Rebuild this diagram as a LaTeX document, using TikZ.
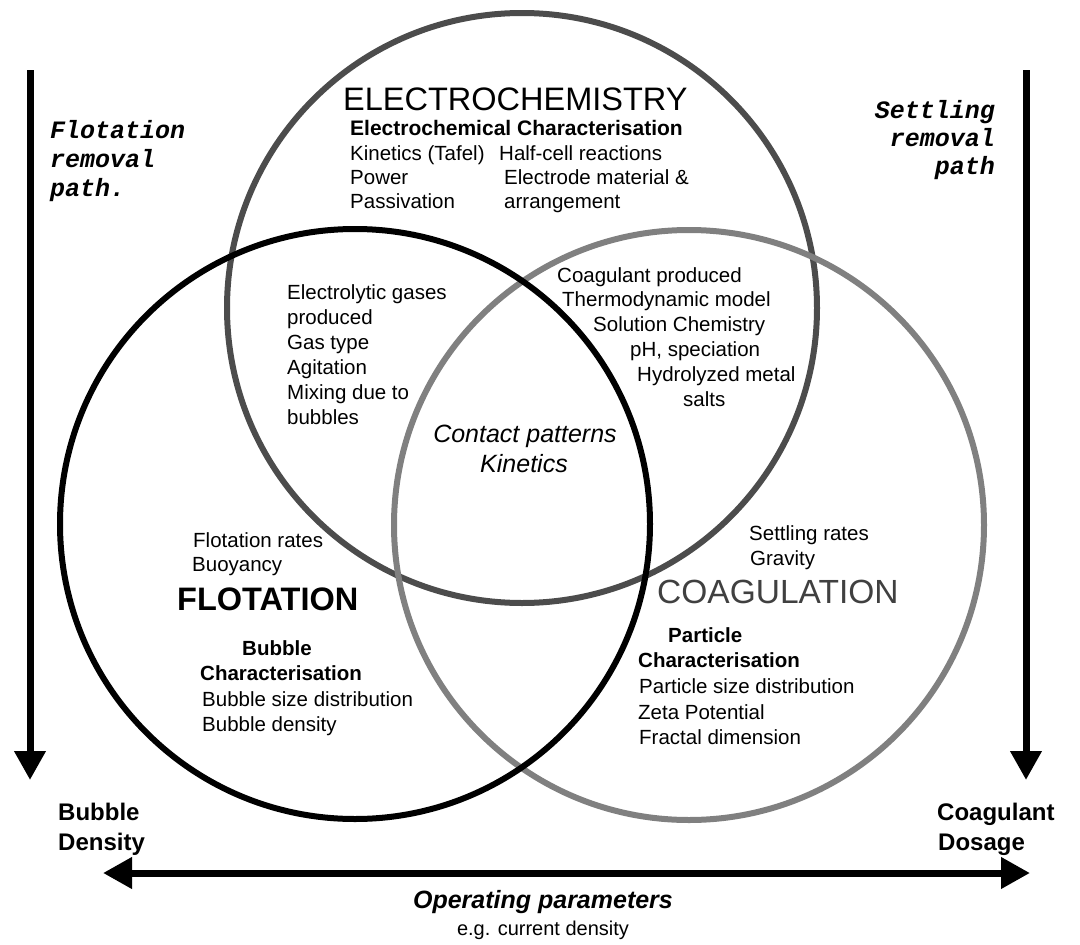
\documentclass[tikz,border=0pt]{standalone}
\usepackage{fontspec}
\setmainfont{Liberation Sans}
\newfontfamily\monof{Liberation Mono}
\usetikzlibrary{arrows.meta}
\tikzset{
  venn/.style={circle, draw, minimum size=590pt, inner sep=0pt, line width=6pt},
  txt/.style={anchor=base west, inner sep=0pt, font=\fontsize{20.5}{24}\selectfont},
  btxt/.style={anchor=base west, inner sep=0pt, font=\fontsize{20.5}{24}\selectfont\bfseries},
  itxt/.style={anchor=base, inner sep=0pt, font=\fontsize{25}{30}\selectfont\itshape},
  big/.style={anchor=base west, inner sep=0pt, font=\fontsize{32.5}{36}\selectfont},
  mono/.style={inner sep=0pt, font=\fontsize{25}{28}\selectfont\monof\bfseries\itshape},
  axlab/.style={anchor=base west, inner sep=0pt, font=\fontsize{24}{28}\selectfont\bfseries},
  bigarrow/.style={line width=7pt},
  tip/.tip={Triangle[length=29pt,width=30pt]}
}
\begin{document}
\begin{tikzpicture}[x=1pt,y=-1pt]
\useasboundingbox (0,0) rectangle (1080,945);
\fill[white] (0,0) rectangle (1080,945);
% circles
\node[venn, draw=black!70] (elec) at (522,308) {};
\node[venn, draw=black!50] (coag) at (689,525) {};
\node[venn, draw=black] (flot) at (355,524) {};
% arrows
\coordinate (lt) at (30,70);
\coordinate (lb) at (30,780);
\coordinate (rt) at (1026,70);
\coordinate (rb) at (1026,780);
\coordinate (hl) at (103,873);
\coordinate (hr) at (1030,873);
\draw[bigarrow,-tip] (lt) -- (lb);
\draw[bigarrow,-tip] (rt) -- (rb);
\draw[bigarrow,tip-tip] (hl) -- (hr);
% removal paths
\node[mono, anchor=base west] (fl1) at (50,138) {Flotation};
\node[mono, anchor=base west] (fl2) at (50,167) {removal};
\node[mono, anchor=base west] (fl3) at (50,196) {path.};
\node[mono, anchor=base east] (st1) at (995,118) {Settling};
\node[mono, anchor=base east] (st2) at (995,146) {removal};
\node[mono, anchor=base east] (st3) at (995,174) {path};
% electrochemistry
\node[big] (etitle) at (343,110) {ELECTROCHEMISTRY};
\node[btxt, font=\fontsize{21}{24}\selectfont\bfseries] (esub) at (350,135) {Electrochemical Characterisation};
\node[txt] (e1) at (350,160) {Kinetics (Tafel)};
\node[txt] (e2) at (350,184) {Power};
\node[txt] (e3) at (350,208) {Passivation};
\node[txt] (e4) at (499,160) {Half-cell reactions};
\node[txt] (e5) at (504,184) {Electrode material \&};
\node[txt] (e6) at (504,208) {arrangement};
% electro-flotation overlap
\node[txt] (ef1) at (287,299) {Electrolytic gases};
\node[txt] (ef2) at (287,324) {produced};
\node[txt] (ef3) at (287,349) {Gas type};
\node[txt] (ef4) at (287,374) {Agitation};
\node[txt] (ef5) at (287,399) {Mixing due to};
\node[txt] (ef6) at (287,424) {bubbles};
% electro-coagulation overlap
\node[txt] (ec1) at (557,282) {Coagulant produced};
\node[txt] (ec2) at (562,306) {Thermodynamic model};
\node[txt] (ec3) at (593,331) {Solution Chemistry};
\node[txt] (ec4) at (630,356) {pH, speciation};
\node[txt] (ec5) at (637,381) {Hydrolyzed metal};
\node[txt] (ec6) at (683,406) {salts};
% centre
\node[itxt] (c1) at (525,442) {Contact patterns};
\node[itxt] (c2) at (524,472) {Kinetics};
% flotation
\node[txt] (f1) at (193,547) {Flotation rates};
\node[txt] (f2) at (192,571) {Buoyancy};
\node[big, font=\fontsize{32.5}{36}\selectfont\bfseries] (ftitle) at (177,610) {FLOTATION};
\node[btxt] (f3) at (242,655) {Bubble};
\node[btxt] (f4) at (200,680) {Characterisation};
\node[txt] (f5) at (202,706) {Bubble size distribution};
\node[txt] (f6) at (202,731) {Bubble density};
% coagulation
\node[txt] (g1) at (749,540) {Settling rates};
\node[txt] (g2) at (750,565) {Gravity};
\node[big, font=\fontsize{33.5}{36}\selectfont, text=black!75] (gtitle) at (657,603) {COAGULATION};
\node[btxt] (g3) at (668,642) {Particle};
\node[btxt] (g4) at (638,667) {Characterisation};
\node[txt] (g5) at (639,693) {Particle size distribution};
\node[txt] (g6) at (638,719) {Zeta Potential};
\node[txt] (g7) at (639,744) {Fractal dimension};
% axis labels
\node[axlab] (bd1) at (58,820) {Bubble};
\node[axlab] (bd2) at (58,850) {Density};
\node[axlab] (cd1) at (937,820) {Coagulant};
\node[axlab] (cd2) at (938,850) {Dosage};
\node[anchor=base, inner sep=0pt, font=\fontsize{25}{28}\selectfont\bfseries\itshape] (op) at (543,908) {Operating parameters};
\node[anchor=base, inner sep=0pt, font=\fontsize{20}{24}\selectfont] (eg) at (543,935) {e.g. current density};
\end{tikzpicture}
\end{document}
